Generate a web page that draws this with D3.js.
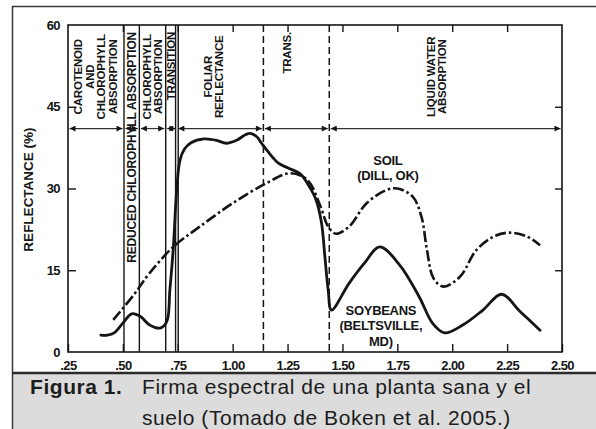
<!DOCTYPE html>
<html>
<head>
<meta charset="utf-8">
<script src="https://cdn.jsdelivr.net/npm/d3@7/dist/d3.min.js"></script>
<style>
  html, body { margin: 0; padding: 0; background: #fff; }
  svg { display: block; }
  text { font-family: "Liberation Sans", Arial, Helvetica, sans-serif; }
</style>
</head>
<body>
<svg id="chart" width="596" height="429"></svg>
<script>
// Spectral reflectance of a healthy soybean canopy and a soil (wavelength in µm)
const soyWavelength = [0.40, 0.43, 0.46, 0.50, 0.54, 0.58, 0.62, 0.67, 0.70, 0.714, 0.73, 0.745, 0.76, 0.78, 0.81, 0.87, 0.93, 0.97, 1.02, 1.06, 1.08, 1.11, 1.13, 1.16, 1.21, 1.25, 1.31, 1.35, 1.38, 1.405, 1.42, 1.435, 1.45, 1.53, 1.60, 1.67, 1.76, 1.85, 1.91, 1.965, 2.05, 2.14, 2.225, 2.31, 2.40];
const soyReflectance = [3.1, 3.1, 3.5, 5.3, 7.0, 6.5, 5.0, 4.4, 5.6, 11.4, 19.3, 29.7, 35.2, 37.2, 38.4, 39.1, 38.8, 38.3, 38.9, 39.9, 40.1, 39.5, 38.4, 36.8, 34.6, 33.8, 32.6, 30.3, 27.9, 23.6, 17.5, 11.4, 7.7, 12.6, 16.3, 19.3, 16.0, 10.1, 5.3, 3.5, 5.0, 7.7, 10.6, 7.4, 4.0];

const soilWavelength = [0.456, 0.55, 0.62, 0.73, 0.85, 1.00, 1.15, 1.26, 1.34, 1.40, 1.435, 1.47, 1.53, 1.61, 1.70, 1.75, 1.82, 1.86, 1.885, 1.915, 1.96, 2.035, 2.11, 2.19, 2.26, 2.34, 2.40];
const soilReflectance = [5.9, 10.5, 14.4, 19.3, 23.0, 27.3, 30.9, 32.8, 31.6, 26.7, 23.0, 21.7, 23.0, 27.3, 29.7, 30.0, 28.5, 24.8, 18.7, 13.5, 12.0, 13.8, 18.7, 21.2, 21.9, 21.2, 19.6];

const xTicks = [0.25, 0.50, 0.75, 1.00, 1.25, 1.50, 1.75, 2.00, 2.25, 2.50];
const xTickLabels = [".25", ".50", ".75", "1.00", "1.25", "1.50", "1.75", "2.00", "2.25", "2.50"];
const yTicks = [0, 15, 30, 45, 60];

// Spectral regions: solid boundaries, dashed boundaries, arrow row
const solidBounds = [0.505, 0.575, 0.695, 0.74, 0.752];
const dashedBounds = [1.14, 1.44];
const arrowBounds = [0.25, 0.505, 0.575, 0.695, 0.746, 1.14, 1.44, 2.50];
const arrowLevel = 41;

const regionLabels = [
  { at: 0.375, lines: ["CAROTENOID", "AND", "CHLOROPHYLL", "ABSORPTION"], align: "middle" },
  { at: 0.540, lines: ["REDUCED CHLOROPHYLL ABSORPTION"], align: "top" },
  { at: 0.635, lines: ["CHLOROPHYLL", "ABSORPTION"], align: "middle" },
  { at: 0.720, lines: ["TRANSITION"], align: "top" },
  { at: 0.912, lines: ["FOLIAR", "REFLECTANCE"], align: "middle" },
  { at: 1.247, lines: ["TRANS."], align: "top" },
  { at: 1.928, lines: ["LIQUID WATER", "ABSORPTION"], align: "middle" }
];

const curveLabels = [
  { x: 1.707, y: 35.2, lines: ["SOIL", "(DILL, OK)"] },
  { x: 1.675, y: 7.7, lines: ["SOYBEANS", "(BELTSVILLE,", "MD)"] }
];

const captionLead = "Figura 1.";
const captionLines = ["Firma espectral de una planta sana y el", "suelo (Tomado de Boken et al. 2005.)"];

// ---------------------------------------------------------------
const svg = d3.select("#chart");
const W = 596, H = 429;

const x = d3.scaleLinear().domain([0.25, 2.5]).range([68, 562]);
const y = d3.scaleLinear().domain([0, 60]).range([352, 25]);

const ink = "#151515";

// Page frame and caption band
svg.append("rect").attr("x", 12.5).attr("y", 373).attr("width", W - 12.5).attr("height", H - 373).attr("fill", "#dcdcdc");
svg.append("line").attr("x1", 12).attr("x2", W).attr("y1", 6.5).attr("y2", 6.5).attr("stroke", "#3a3a3a").attr("stroke-width", 1.5);
svg.append("line").attr("x1", 12.5).attr("x2", 12.5).attr("y1", 6).attr("y2", H).attr("stroke", "#3a3a3a").attr("stroke-width", 1.5);
svg.append("line").attr("x1", 12).attr("x2", W).attr("y1", 373).attr("y2", 373).attr("stroke", "#2a2a2a").attr("stroke-width", 2.5);

const cap = svg.append("g").attr("fill", "#1c1c1c").style("font-size", "21px").style("letter-spacing", "0.55px");
cap.append("text").attr("x", 30).attr("y", 394).style("font-weight", "bold").text(captionLead);
captionLines.forEach((t, i) => {
  cap.append("text").attr("x", 142).attr("y", 394 + i * 31).text(t);
});

// Plot
const plot = svg.append("g");

// Plot frame
plot.append("rect")
  .attr("x", x(0.25)).attr("y", y(60))
  .attr("width", x(2.5) - x(0.25)).attr("height", y(0) - y(60))
  .attr("fill", "none").attr("stroke", ink).attr("stroke-width", 1.6);

// Axes with inward ticks
const axisStyle = g => {
  g.select(".domain").remove();
  g.selectAll(".tick line").attr("stroke", ink).attr("stroke-width", 1.4);
  g.selectAll(".tick text").attr("fill", ink).style("font-size", "13px").style("font-weight", "bold").style("letter-spacing", "-0.6px");
};

plot.append("g").attr("transform", `translate(0,${y(0)})`)
  .call(d3.axisBottom(x).tickValues(xTicks).tickFormat((d, i) => xTickLabels[i]).tickSize(-8).tickPadding(8))
  .call(axisStyle)
  .call(g => g.selectAll(".tick text").attr("dy", "0.75em"));

plot.append("g").attr("transform", `translate(0,${y(60)})`)
  .call(d3.axisTop(x).tickValues(xTicks.slice(1, -1)).tickFormat("").tickSize(-7))
  .call(axisStyle);

plot.append("g").attr("transform", `translate(${x(0.25)},0)`)
  .call(d3.axisLeft(y).tickValues(yTicks).tickSize(-8).tickPadding(8))
  .call(axisStyle)
  .call(g => g.selectAll(".tick").filter(d => d === 0 || d === 60).select("line").remove());

plot.append("g").attr("transform", `translate(${x(2.5)},0)`)
  .call(d3.axisRight(y).tickValues(yTicks.slice(1, -1)).tickFormat("").tickSize(-7))
  .call(axisStyle);

// Y-axis title
svg.append("text")
  .attr("transform", `translate(28,${(y(0) + y(60)) / 2 + 1}) rotate(-90)`)
  .attr("text-anchor", "middle").attr("dominant-baseline", "central")
  .attr("fill", ink).style("font-size", "13.5px").style("font-weight", "bold")
  .text("REFLECTANCE (%)");

// Region boundaries
plot.selectAll("line.solid").data(solidBounds).join("line")
  .attr("class", "solid")
  .attr("x1", d => x(d)).attr("x2", d => x(d))
  .attr("y1", y(60)).attr("y2", y(0))
  .attr("stroke", ink).attr("stroke-width", 1.4);

plot.selectAll("line.dashed").data(dashedBounds).join("line")
  .attr("class", "dashed")
  .attr("x1", d => x(d)).attr("x2", d => x(d))
  .attr("y1", y(60)).attr("y2", y(0))
  .attr("stroke", ink).attr("stroke-width", 1.5).attr("stroke-dasharray", "7,4");

// Arrow row
const defs = svg.append("defs");
["start", "end"].forEach(kind => {
  defs.append("marker")
    .attr("id", "arrow-" + kind)
    .attr("viewBox", "0 0 10 10").attr("refX", kind === "end" ? 10 : 0).attr("refY", 5)
    .attr("markerUnits", "userSpaceOnUse").attr("markerWidth", 7).attr("markerHeight", 6)
    .attr("orient", "auto")
    .append("path")
    .attr("d", kind === "end" ? "M0,0L10,5L0,10Z" : "M10,0L0,5L10,10Z")
    .attr("fill", ink);
});
const segs = d3.pairs(arrowBounds);
plot.selectAll("line.arrow").data(segs).join("line")
  .attr("class", "arrow")
  .attr("x1", d => x(d[0]) + 1.5).attr("x2", d => x(d[1]) - 1.5)
  .attr("y1", y(arrowLevel)).attr("y2", y(arrowLevel))
  .attr("stroke", "#333").attr("stroke-width", 1.2)
  .attr("marker-start", "url(#arrow-start)").attr("marker-end", "url(#arrow-end)");

// Region labels (vertical text)
const lineGap = 11.5;
regionLabels.forEach(r => {
  const n = r.lines.length;
  r.lines.forEach((t, i) => {
    const cx = x(r.at) + (i - (n - 1) / 2) * lineGap;
    const ty = r.align === "top" ? y(60) + 7 : (y(60) + y(arrowLevel)) / 2;
    plot.append("text")
      .attr("transform", `translate(${cx},${ty}) rotate(-90)`)
      .attr("text-anchor", r.align === "top" ? "end" : "middle")
      .attr("dominant-baseline", "central")
      .attr("fill", ink)
      .style("font-size", n === 1 && t.length > 20 ? "12px" : "11.5px")
      .style("font-weight", "bold")
      .style("letter-spacing", "-0.2px")
      .text(t);
  });
});

// Curves
const line = d3.line().x(d => x(d[0])).y(d => y(d[1])).curve(d3.curveCatmullRom.alpha(0.5));

plot.append("path")
  .datum(d3.zip(soilWavelength, soilReflectance))
  .attr("d", line)
  .attr("fill", "none").attr("stroke", ink).attr("stroke-width", 2.6)
  .attr("stroke-dasharray", "11,3,2.5,3").attr("stroke-linecap", "butt");

plot.append("path")
  .datum(d3.zip(soyWavelength, soyReflectance))
  .attr("d", line)
  .attr("fill", "none").attr("stroke", ink).attr("stroke-width", 2.8)
  .attr("stroke-linejoin", "round").attr("stroke-linecap", "round");

// Curve labels
curveLabels.forEach(c => {
  c.lines.forEach((t, i) => {
    plot.append("text")
      .attr("x", x(c.x)).attr("y", y(c.y) + i * 15.5)
      .attr("text-anchor", "middle").attr("dominant-baseline", "central")
      .attr("fill", ink).style("font-size", "13px").style("font-weight", "bold")
      .style("letter-spacing", "-0.3px")
      .text(t);
  });
});
</script>
</body>
</html>
